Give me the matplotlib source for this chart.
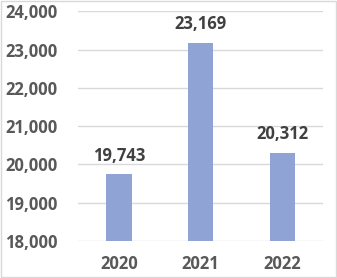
import matplotlib.pyplot as plt
from matplotlib.patches import Rectangle

# data
years = ["2020", "2021", "2022"]
values = [19743, 23169, 20312]
yticks = [18000, 19000, 20000, 21000, 22000, 23000, 24000]

plt.rcParams['font.family'] = ['Open Sans', 'DejaVu Sans']

fig = plt.figure(figsize=(3.37, 2.78), dpi=100)
ax = fig.add_axes([0.2315, 0.133, 0.727, 0.826])

x = range(len(years))
bars = ax.bar(x, values, width=0.31, color='#8FA3D4', zorder=3)

ax.set_xlim(-0.5, 2.5)
ax.set_ylim(18000, 24000)
ax.set_yticks(yticks)
ax.set_yticklabels([f"{v:,}" for v in yticks])
ax.set_xticks(list(x))
ax.set_xticklabels(years)

ax.grid(axis='y', color='#D9D9D9', linewidth=1, zorder=0)
for s in ax.spines.values():
    s.set_visible(False)
ax.tick_params(axis='both', length=0, labelsize=12, labelcolor='#595959')
ax.tick_params(axis='y', pad=15)
ax.tick_params(axis='x', pad=10)
for lab in ax.get_xticklabels() + ax.get_yticklabels():
    lab.set_fontweight('bold')

for xi, v in zip(x, values):
    ax.annotate(f"{v:,}", (xi, v), xytext=(0, 7), textcoords='offset points',
                ha='center', va='bottom', fontsize=12, fontweight='bold',
                color='#404040')

# light border around the chart
fig.patches.append(Rectangle((0.002, 0.002), 0.996, 0.996, transform=fig.transFigure,
                             fill=False, edgecolor='#D9D9D9', linewidth=1))

fig.savefig("out.png", dpi=100)
